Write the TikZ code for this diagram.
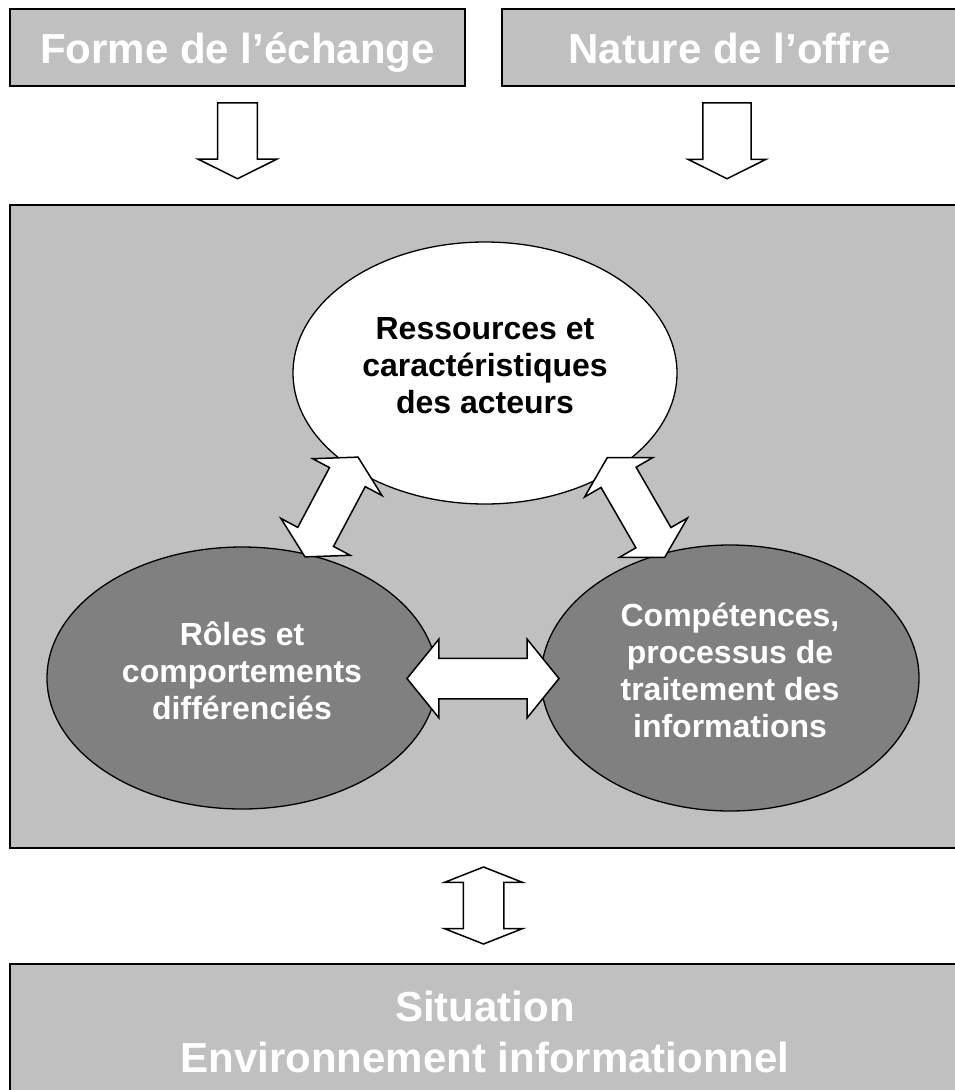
\documentclass[tikz,border=0pt]{standalone}
\usepackage{fontspec}
\setmainfont{Liberation Sans}
\usepackage{xcolor}
\usetikzlibrary{shapes.geometric,shapes.arrows,positioning}
\definecolor{lightgrey}{RGB}{192,192,192}
\definecolor{darkgrey}{RGB}{128,128,128}
\newcommand{\lift}{\rule[-15pt]{0pt}{15pt}}
\tikzstyle{titlebox} = [rectangle, draw=black, line width=1.8pt, fill=lightgrey, text=white, font=\fontsize{42}{51}\selectfont\bfseries, align=center, inner sep=0pt]
\tikzstyle{oneline} = [titlebox, text height=31pt, text depth=0pt, minimum width=455pt, minimum height=77pt]
\tikzstyle{actor} = [ellipse, draw=black, line width=1.3pt, fill=white, text=black, align=center, font=\fontsize{32}{37}\selectfont\bfseries, inner sep=0pt]
\tikzstyle{darkactor} = [actor, fill=darkgrey, text=white]
\tikzstyle{downarrow} = [single arrow, draw=black, line width=1.5pt, fill=white, rotate=-90, inner xsep=0pt, minimum width=0pt, single arrow tip angle=127, minimum height=76pt]
\tikzstyle{bothways} = [double arrow, draw=black, line width=1.5pt, fill=white, inner xsep=0pt, inner ysep=19.5pt, minimum width=0pt, double arrow head extend=19pt]

\begin{document}
\begin{tikzpicture}[x=1pt, y=-1pt]
\useasboundingbox (0,0) rectangle (955,1090);

% top boxes ==================================
\node[oneline] (forme) at (237.5,47.5) {Forme de l’échange};
\node[oneline] (nature) at (729.5,47.5) {Nature de l’offre};

% frame and situation
\node[titlebox, minimum width=950pt, minimum height=643pt] (cadre) at (485,526.5) {};
\node[titlebox, minimum width=950pt, minimum height=136pt] (situation) at (485,1032) {Situation\\Environnement informationnel};

% actors
\node[actor, minimum width=384pt, minimum height=262pt] (ress) at (485,373) {Ressources et\\caractéristiques\\des acteurs\lift};
\node[darkactor, minimum width=390pt, minimum height=262pt] (roles) at (242,678) {Rôles et\\comportements\\différenciés\lift};
\node[darkactor, minimum width=378pt, minimum height=266pt] (comp) at (730,678) {Compétences,\\processus de\\traitement des\\informations\lift};

% arrows
\node[downarrow, inner ysep=19.2pt, single arrow head extend=19.3pt, anchor=tail] (versA) at (237.5,102) {};
\node[downarrow, inner ysep=23.3pt, single arrow head extend=15pt, anchor=tail] (versB) at (727,102) {};

\node[bothways, double arrow tip angle=120, minimum height=113pt, rotate=62] (lienA) at (331.5,507) {};
\node[bothways, double arrow tip angle=120, minimum height=115pt, rotate=-60] (lienB) at (636,507.5) {};
\node[bothways, double arrow tip angle=102, minimum height=152pt] (lienC) at (483,678.5) {};
\node[bothways, double arrow tip angle=137, minimum height=77pt, rotate=90] (lienD) at (483.5,905.5) {};

\end{tikzpicture}
\end{document}
